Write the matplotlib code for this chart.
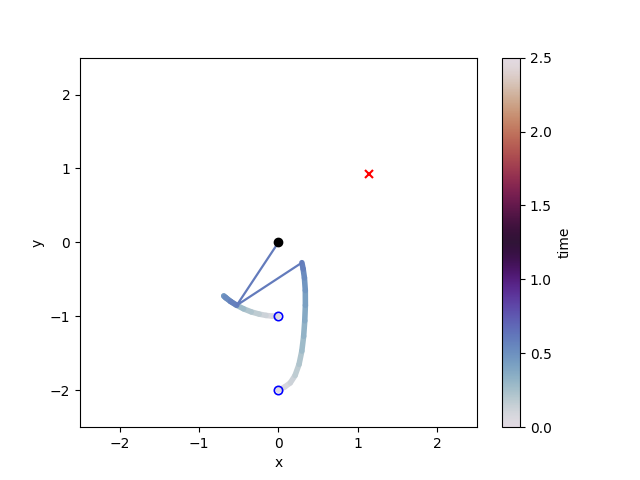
import numpy as np
import matplotlib
matplotlib.use('Agg')
import matplotlib.pyplot as plt
from matplotlib.collections import LineCollection
from matplotlib.colors import Normalize
from matplotlib.cm import ScalarMappable

t = [0.0, 0.05, 0.1, 0.15, 0.2, 0.25, 0.3, 0.35, 0.4, 0.45, 0.5, 0.55, 0.6]
x1 = [0.0, -0.070, -0.156, -0.242, -0.342, -0.438, -0.530, -0.602, -0.656, -0.688, -0.669, -0.602, -0.525]
y1 = [-1.0, -0.998, -0.988, -0.970, -0.940, -0.899, -0.848, -0.799, -0.755, -0.725, -0.743, -0.799, -0.851]
x2 = [0.0, 0.08, 0.15, 0.21, 0.26, 0.295, 0.318, 0.332, 0.340, 0.339, 0.328, 0.312, 0.296]
y2 = [-2.0, -1.955, -1.90, -1.80, -1.65, -1.47, -1.27, -1.06, -0.85, -0.65, -0.48, -0.36, -0.274]

pivot = (0.0, 0.0)
target = (1.146, 0.925)
t_max = 2.5

cmap = plt.get_cmap('twilight')
norm = Normalize(0, t_max)

fig, ax = plt.subplots()

# trails coloured by time
for xs, ys in [(x1, y1), (x2, y2)]:
    pts = np.column_stack([xs, ys])
    segs = np.stack([pts[:-1], pts[1:]], axis=1)
    tm = 0.5 * (np.array(t[:-1]) + np.array(t[1:]))
    lc = LineCollection(segs, cmap=cmap, norm=norm, linewidths=4.0, capstyle='round', joinstyle='round')
    lc.set_array(tm)
    ax.add_collection(lc)

# rods at the last time
rod_col = cmap(norm(t[-1]))
ax.plot([pivot[0], x1[-1], x2[-1]], [pivot[1], y1[-1], y2[-1]], color=rod_col, lw=1.6, zorder=3)

ax.plot(pivot[0], pivot[1], 'o', color='black', ms=6, zorder=4)
ax.plot([x1[0], x2[0]], [y1[0], y2[0]], 'o', mfc='none', mec='blue', ms=6, mew=1.2, ls='none', zorder=4)
ax.plot(target[0], target[1], 'x', color='red', ms=6, mew=1.5, zorder=4)

ax.set_xlim(-2.5, 2.5)
ax.set_ylim(-2.5, 2.5)
ax.set_xlabel('x')
ax.set_ylabel('y')

sm = ScalarMappable(norm=norm, cmap=cmap)
cb = fig.colorbar(sm, ax=ax)
cb.set_label('time')

fig.savefig('out.png', dpi=100)
